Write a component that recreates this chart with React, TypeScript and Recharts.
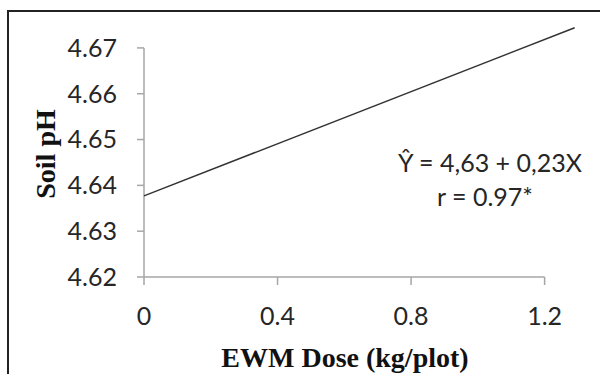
import { LineChart, Line, XAxis, YAxis, ReferenceLine } from 'recharts'

// fitted line at its two ends
const doseValues = [0, 1.29]
const phValues = [4.6377, 4.6744]
const xTicks = [0, 0.4, 0.8, 1.2]
const yTicks = [4.62, 4.63, 4.64, 4.65, 4.66, 4.67]
const equationLines = ['Ŷ = 4,63 + 0,23X', 'r = 0.97*']

const data = doseValues.map((dose, i) => ({ dose, ph: phValues[i] }))

const AXIS = '#a6a6a6'
const INK = '#262626'
const tickFont = { fontSize: 25, fill: INK, fontFamily: 'Lato, sans-serif' }
const titleFont = { fontSize: 28, fontWeight: 700, fill: '#111', fontFamily: '"Liberation Serif", serif' }

export default function App() {
  return (
    <div style={{ position: 'fixed', left: 0, top: 0, width: 600, height: 374, background: '#fff', overflow: 'hidden' }}>
      <div
        style={{
          position: 'absolute', left: 7, top: 10, width: 620, height: 400,
          borderLeft: '2px solid #222', borderTop: '2px solid #222',
        }}
      />
      <LineChart width={600} height={374} data={data} margin={{ top: 25, right: 22, left: 0, bottom: 0 }}>
        <XAxis
          dataKey="dose"
          type="number"
          domain={[0, 1.3]}
          ticks={xTicks}
          tickFormatter={v => String(v)}
          axisLine={false}
          tickLine={{ stroke: AXIS, strokeWidth: 1.5 }}
          tickSize={8}
          tickMargin={22}
          tick={tickFont}
          height={97}
          label={{
            content: () => (
              <text x={345} y={367} textAnchor="middle" {...titleFont}>EWM Dose (kg/plot)</text>
            ),
          }}
        />
        <YAxis
          type="number"
          domain={[4.62, 4.675]}
          ticks={yTicks}
          tickFormatter={v => v.toFixed(2)}
          axisLine={false}
          tickLine={{ stroke: AXIS, strokeWidth: 1.5 }}
          tickSize={7}
          tickMargin={20}
          tick={tickFont}
          width={144}
          label={{
            content: () => (
              <text x={55} y={154} textAnchor="middle" transform="rotate(-90 55 154)" {...titleFont}>Soil pH</text>
            ),
          }}
        />
        <ReferenceLine segment={[{ x: 0, y: 4.62 }, { x: 1.2, y: 4.62 }]} stroke={AXIS} strokeWidth={1.5} />
        <ReferenceLine segment={[{ x: 0, y: 4.62 }, { x: 0, y: 4.67 }]} stroke={AXIS} strokeWidth={1.5} />
        <Line
          type="linear"
          dataKey="ph"
          stroke="#333"
          strokeWidth={1.5}
          dot={false}
          isAnimationActive={false}
        />
      </LineChart>
      <svg width={600} height={374} style={{ position: 'absolute', left: 0, top: 0, pointerEvents: 'none' }}>
        <text x={490} y={172} textAnchor="middle" fontSize={25} fill={INK} fontFamily="Lato, sans-serif">{equationLines[0]}</text>
        <text x={485} y={206} textAnchor="middle" fontSize={25} fill={INK} fontFamily="Lato, sans-serif">{equationLines[1]}</text>
      </svg>
    </div>
  )
}
